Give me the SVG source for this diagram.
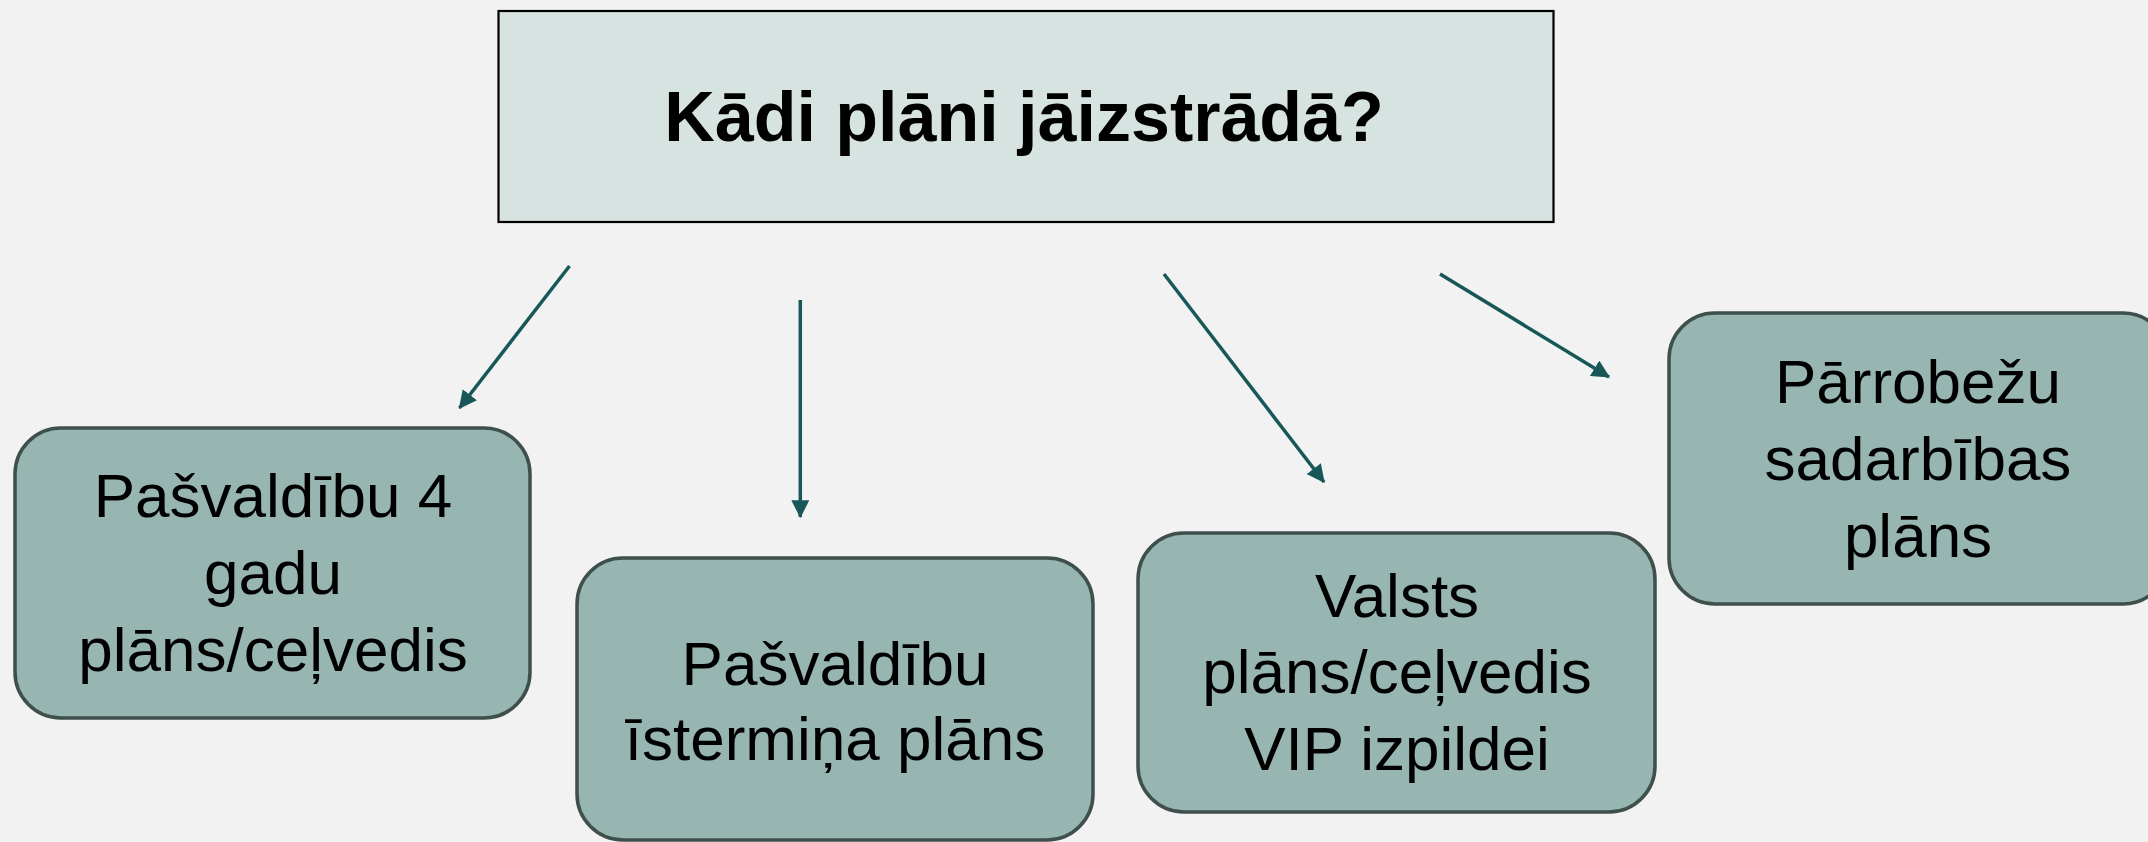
<svg xmlns="http://www.w3.org/2000/svg" width="2148" height="842" viewBox="0 0 2148 842">
<style>
.node rect{fill:#97B6B1;stroke:#3E4F4C;stroke-width:3.5}
.node text{font-family:"Liberation Sans",Arial,sans-serif;font-size:62px;fill:#000;text-anchor:middle}
.title rect{fill:#D6E3E0;stroke:#000;stroke-width:2.2}
.title text{font-family:"Liberation Sans",Arial,sans-serif;font-size:70px;font-weight:bold;fill:#000;text-anchor:middle}
.conn line{stroke:#175757;stroke-width:3.5;marker-end:url(#ah)}
</style>
<defs>
<marker id="ah" markerUnits="userSpaceOnUse" markerWidth="18" markerHeight="18" viewBox="0 0 16 16" refX="15" refY="8" orient="auto">
<path d="M0,0 L16,8 L0,16 Z" fill="#175757"/>
</marker>
</defs>
<rect x="0" y="0" width="2148" height="842" fill="#F2F2F2"/>
<g id="title" class="title">
<rect x="498.5" y="11" width="1055" height="211"/>
<text x="1024" y="141">Kādi plāni jāizstrādā?</text>
</g>
<g id="n1" class="node">
<rect x="15" y="428" width="515" height="290" rx="46" ry="46"/>
<text x="273" y="517">Pašvaldību 4</text>
<text x="273" y="594">gadu</text>
<text x="273" y="671">plāns/ceļvedis</text>
</g>
<g id="n2" class="node">
<rect x="577" y="558" width="516" height="282" rx="46" ry="46"/>
<text x="835" y="685">Pašvaldību</text>
<text x="835" y="760">īstermiņa plāns</text>
</g>
<g id="n3" class="node">
<rect x="1138" y="533" width="517" height="279" rx="46" ry="46"/>
<text x="1397" y="617">Valsts</text>
<text x="1397" y="693">plāns/ceļvedis</text>
<text x="1397" y="770">VIP izpildei</text>
</g>
<g id="n4" class="node">
<rect x="1669" y="313" width="500" height="291" rx="46" ry="46"/>
<text x="1918" y="403">Pārrobežu</text>
<text x="1918" y="480">sadarbības</text>
<text x="1918" y="557">plāns</text>
</g>
<g id="connectors" class="conn">
<line x1="569.5" y1="266" x2="459.5" y2="408"/>
<line x1="800.3" y1="300" x2="800.3" y2="517"/>
<line x1="1164" y1="274" x2="1324" y2="482"/>
<line x1="1440" y1="274" x2="1609" y2="377"/>
</g>
</svg>
